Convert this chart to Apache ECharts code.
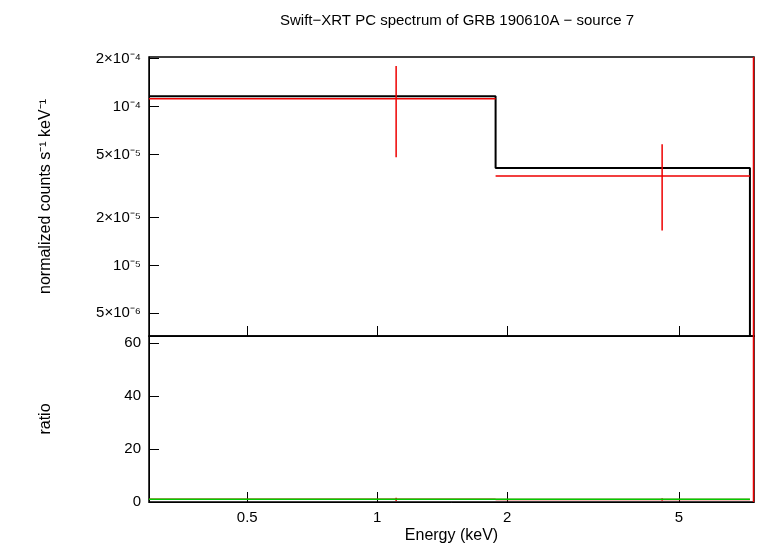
<!DOCTYPE html><html><head><meta charset="utf-8"><script src="https://cdn.jsdelivr.net/npm/echarts@6/dist/echarts.min.js"></script></head><body style="margin:0"><div id="c" style="width:758px;height:556px"></div><script>
const modelEdges=[0.296,1.88,7.3];
const modelValues=[1.16e-4,4.1e-5];
const dataX=[1.106,4.57];
const dataXLo=[0.296,1.88];
const dataXHi=[1.88,7.3];
const dataY=[1.12e-4,3.65e-5];
const dataYLo=[4.8e-5,1.66e-5];
const dataYHi=[1.8e-4,5.8e-5];
const ratioY=[1.0,0.9];
const ratioLo=[0.4,0.45];
const ratioHi=[1.6,1.45];
const xTicks=[0.5,1,2,5];
const yTicks=[2e-4,1e-4,5e-5,2e-5,1e-5,5e-6];
const yLabels=['2×10⁻⁴','10⁻⁴','5×10⁻⁵','2×10⁻⁵','10⁻⁵','5×10⁻⁶'];
const rTicks=[0,20,40,60];
const L=Math.log10;
const X0=L(0.296),X1=L(7.46);
const model=[];
for(let i=0;i<modelValues.length;i++){model.push([L(modelEdges[i]),L(modelValues[i])],[L(modelEdges[i+1]),L(modelValues[i])]);}
model.push([L(7.3),L(3.6e-6)]);
const red=[],redR=[];
for(let i=0;i<dataX.length;i++){
 red.push([L(dataXLo[i]),L(dataY[i])],[L(dataXHi[i]),L(dataY[i])],[null,null],[L(dataX[i]),L(dataYLo[i])],[L(dataX[i]),L(dataYHi[i])],[null,null]);
 redR.push([L(dataXLo[i]),ratioY[i]],[L(dataXHi[i]),ratioY[i]],[null,null],[L(dataX[i]),ratioLo[i]],[L(dataX[i]),ratioHi[i]],[null,null]);
}
red.push([L(7.44),L(3.6e-6)],[L(7.44),L(2.05e-4)]);
redR.push([L(7.44),0],[L(7.44),62.6]);
const f='Liberation Sans, Arial, sans-serif';
const xa=(gi,show)=>({type:'value',gridIndex:gi,min:X0,max:X1,splitLine:{show:false},
 axisLine:{onZero:false,lineStyle:{color:'#000'}},axisTick:{inside:true,length:10,customValues:xTicks.map(L),lineStyle:{color:'#000'}},
 axisLabel:{show:show,customValues:xTicks.map(L),formatter:v=>String(+Math.pow(10,v).toPrecision(2)),color:'#000',fontSize:15,fontFamily:f},
 name:show?'Energy (keV)':'',nameLocation:'middle',nameGap:26,nameTextStyle:{color:'#000',fontSize:16,fontFamily:f}});
const opt={animation:false,backgroundColor:'#fff',
 title:{text:'Swift−XRT PC spectrum of GRB 190610A − source 7',left:452,top:8,textAlign:'center',textStyle:{fontSize:15,fontWeight:'normal',color:'#000',fontFamily:f}},
 grid:[{left:149,top:57,width:605,height:279,show:true,borderColor:'#000',borderWidth:1.5},{left:149,top:336,width:605,height:166,show:true,borderColor:'#000',borderWidth:1.5}],
 xAxis:[xa(0,false),xa(1,true)],
 yAxis:[{type:'value',gridIndex:0,min:L(3.6e-6),max:L(2.05e-4),splitLine:{show:false},axisLine:{onZero:false,lineStyle:{color:'#000'}},
  axisTick:{inside:true,length:10,customValues:yTicks.map(L),lineStyle:{color:'#000'}},
  axisLabel:{customValues:yTicks.map(L),formatter:v=>{const i=yTicks.findIndex(t=>Math.abs(L(t)-v)<1e-6);return i>=0?yLabels[i]:'';},color:'#000',fontSize:15,fontFamily:f},
  name:'normalized counts s⁻¹ keV⁻¹',nameLocation:'middle',nameGap:95,nameTextStyle:{color:'#000',fontSize:16,fontFamily:f}},
 {type:'value',gridIndex:1,min:0,max:62.6,splitLine:{show:false},axisLine:{onZero:false,lineStyle:{color:'#000'}},
  axisTick:{inside:true,length:10,customValues:rTicks,lineStyle:{color:'#000'}},
  axisLabel:{customValues:rTicks,color:'#000',fontSize:15,fontFamily:f},
  name:'ratio',nameLocation:'middle',nameGap:95,nameTextStyle:{color:'#000',fontSize:16,fontFamily:f}}],
 series:[
  {type:'line',xAxisIndex:0,yAxisIndex:0,data:model,showSymbol:false,lineStyle:{color:'#000',width:2}},
  {type:'line',xAxisIndex:0,yAxisIndex:0,data:red,showSymbol:false,connectNulls:false,lineStyle:{color:'#e00',width:1.5}},
  {type:'line',xAxisIndex:1,yAxisIndex:1,data:redR,showSymbol:false,connectNulls:false,lineStyle:{color:'#e00',width:1.5}},
  {type:'line',xAxisIndex:1,yAxisIndex:1,data:[[X0,1],[L(7.3),1]],showSymbol:false,lineStyle:{color:'#0c0',width:1.5}}
 ]};
echarts.init(document.getElementById('c')).setOption(opt);
</script></body></html>
